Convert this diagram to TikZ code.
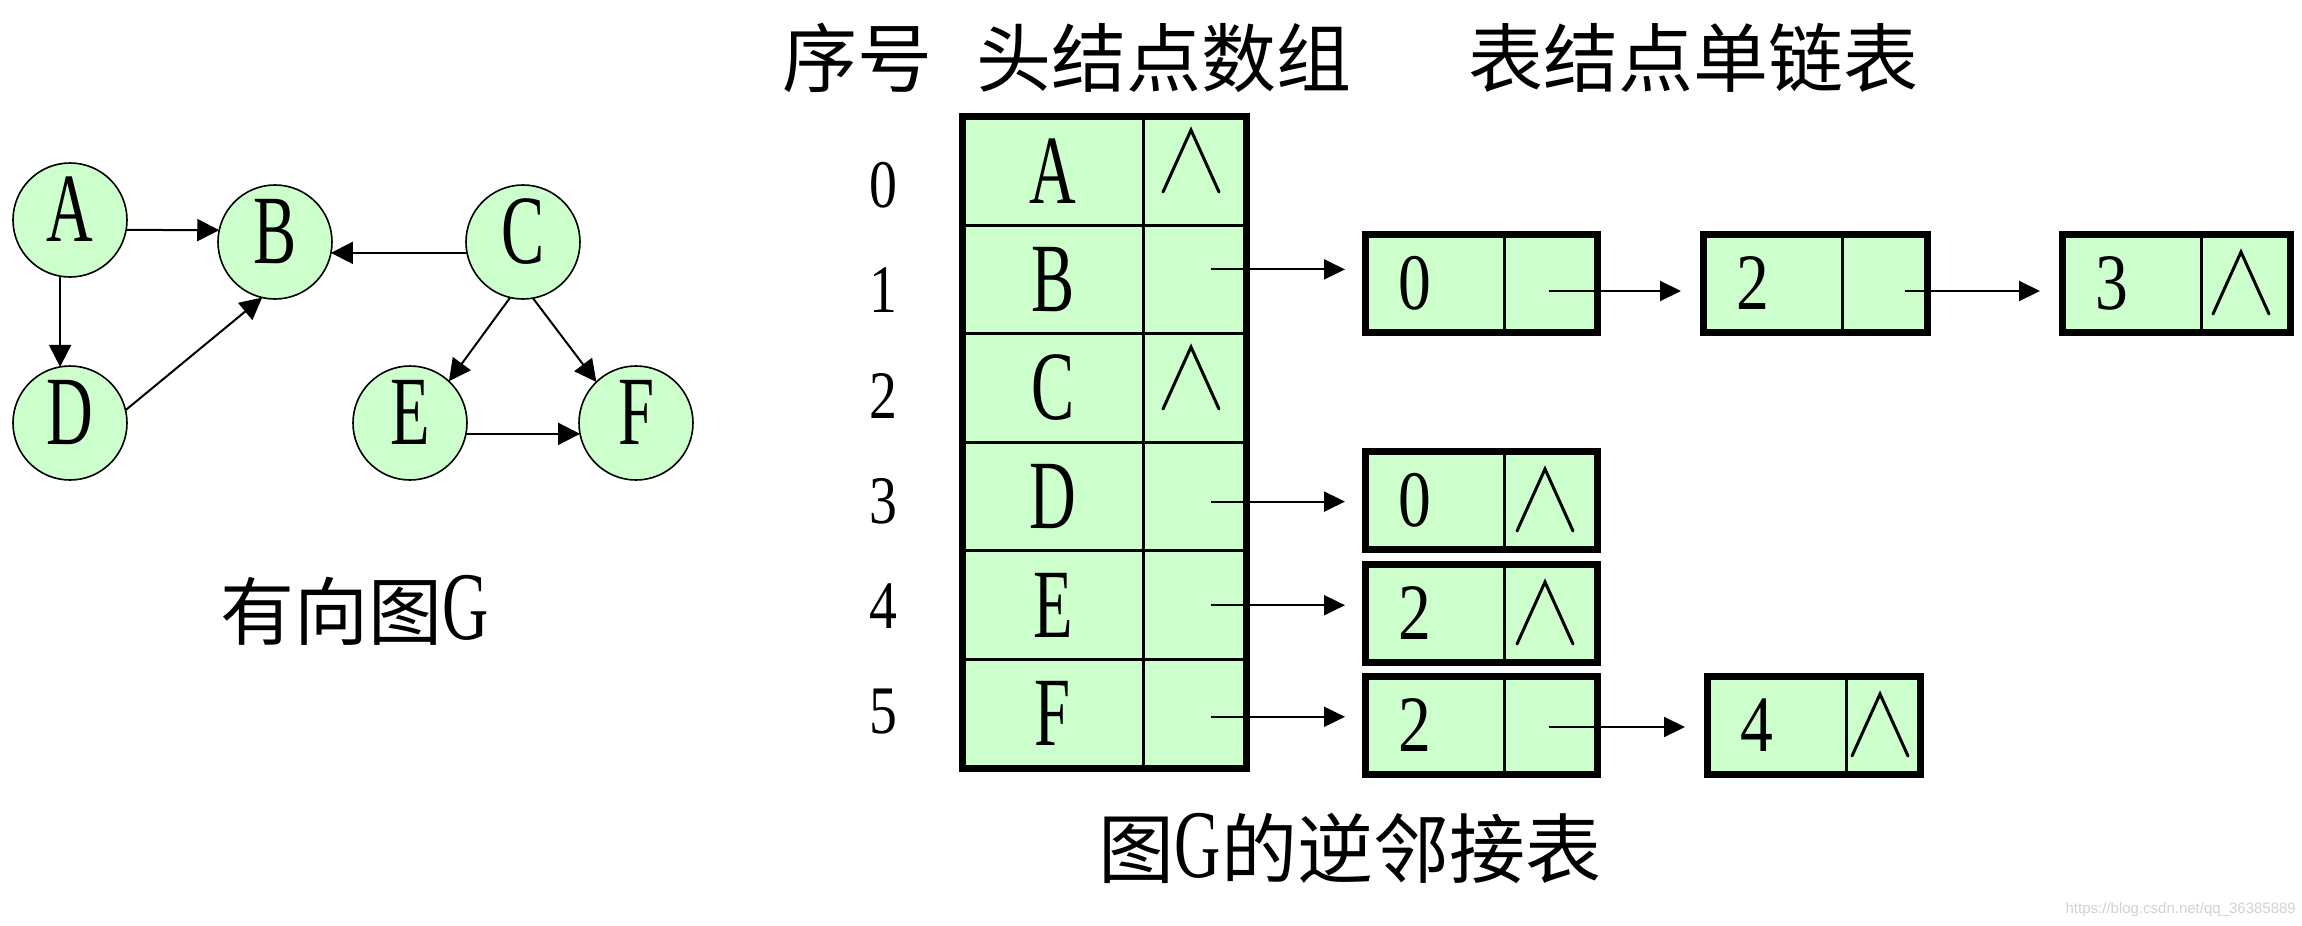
\documentclass[tikz,border=0pt]{standalone}
\usepackage{fontspec}
\setmainfont{Liberation Serif}
\newfontfamily\cjk{Noto Sans CJK SC}
\newfontfamily\nlet[FakeStretch=0.66]{Liberation Serif}
\newfontfamily\ndig[FakeStretch=0.82]{Liberation Serif}
\newfontfamily\wmfont{Liberation Sans}
\usetikzlibrary{arrows.meta}
\definecolor{cellgreen}{RGB}{204,255,204}

\tikzset{
 vert/.style={circle, draw, line width=1.6pt, fill=cellgreen, minimum size=114pt, inner sep=0pt, outer sep=0pt,
   text height=66pt, text depth=24pt, font=\nlet\fontsize{98}{98}\selectfont},
 garrow/.style={line width=2pt, -{Triangle[length=22pt,width=22pt]}},
 ptr/.style={line width=2pt, -{Triangle[length=21pt,width=20pt]}},
 hcell/.style={rectangle, draw, line width=3pt, fill=cellgreen, minimum width=181.5pt, minimum height=108.6pt,
   inner sep=0pt, outer sep=0pt, font=\nlet\fontsize{98}{98}\selectfont},
 pcell/.style={rectangle, draw, line width=3pt, fill=cellgreen, minimum width=103pt, minimum height=108.6pt,
   inner sep=0pt, outer sep=0pt},
 dcell/.style={rectangle, draw, line width=3pt, fill=cellgreen, minimum width=139pt, minimum height=98pt,
   inner sep=0pt, outer sep=0pt},
 ncell/.style={rectangle, draw, line width=3pt, fill=cellgreen, minimum height=98pt,
   inner sep=0pt, outer sep=0pt},
 thickframe/.style={line width=7pt},
 nul/.style={line width=3pt, line cap=round},
 idx/.style={font=\ndig\fontsize{68}{68}\selectfont, inner sep=0pt},
 ddig/.style={font=\ndig\fontsize{80}{80}\selectfont, inner sep=0pt},
 hdtext/.style={font=\cjk\fontsize{75}{75}\selectfont, inner sep=0pt},
 nullsym/.pic={\draw[nul] (-28,31) -- (0,-31) -- (28,31);}
}

% #1 name, #2 left x, #3 centre y, #4 digit, #5 width of pointer field
\newcommand{\listnode}[5]{%
 \node[dcell] (#1a) at (#2+69.5,#3) {};
 \node[ncell, minimum width=#5pt, anchor=west] (#1b) at (#1a.east) {};
 \node[ddig] (#1d) at (#2+50,#3) {#4};
 \draw[thickframe] (#1a.north west) rectangle (#1b.south east);
}

\begin{document}
\begin{tikzpicture}[x=1pt,y=-1pt]
\useasboundingbox (0,0) rectangle (2302,926);

% ---------- directed graph ----------
\node[vert] (A) at (70,220) {A};
\node[vert] (B) at (275,242) {B};
\node[vert] (C) at (523,242) {C};
\node[vert] (D) at (70,423) {D};
\node[vert] (E) at (410,423) {E};
\node[vert] (F) at (636,423) {F};

\draw[garrow] (A.-10) -- (B.168);
\draw[garrow] (C.191) -- (B.-11);
\draw[garrow] (A.260) -- (D.100);
\draw[garrow] (D.13) -- (B.257);
\draw[garrow] (C.257) -- (E.47);
\draw[garrow] (C.280) -- (F.134);
\draw[garrow] (E.-11) -- (F.191);

\node[font=\cjk\fontsize{74}{74}\selectfont, inner sep=0pt] (G1) at (355,610)
  {有向图{\nlet\fontsize{97}{97}\selectfont G}};

% ---------- headers ----------
\node[hdtext] (T1) at (857,58) {序号};
\node[hdtext] (T2) at (1164,58) {头结点数组};
\node[hdtext] (T3) at (1693,58) {表结点单链表};

% ---------- index numbers ----------
\node[idx] (I0) at (883,185) {0};
\node[idx] (I1) at (883,290) {1};
\node[idx] (I2) at (883,396) {2};
\node[idx] (I3) at (883,501) {3};
\node[idx] (I4) at (883,606) {4};
\node[idx] (I5) at (883,712) {5};

% ---------- head node array ----------
\node[hcell] (H0) at (1052.75,170.8) {A}; \node[pcell] (P0) at (1195,170.8) {};
\node[hcell] (H1) at (1052.75,279.4) {B}; \node[pcell] (P1) at (1195,279.4) {};
\node[hcell] (H2) at (1052.75,388.0) {C}; \node[pcell] (P2) at (1195,388.0) {};
\node[hcell] (H3) at (1052.75,496.6) {D}; \node[pcell] (P3) at (1195,496.6) {};
\node[hcell] (H4) at (1052.75,605.2) {E}; \node[pcell] (P4) at (1195,605.2) {};
\node[hcell] (H5) at (1052.75,713.8) {F}; \node[pcell] (P5) at (1195,713.8) {};
\draw[thickframe] (H0.north west) rectangle (P5.south east);
\pic at (1191,161) {nullsym};
\pic at (1191,378) {nullsym};

% ---------- list nodes ----------
\listnode{L1}{1365}{283}{0}{93}
\listnode{L2}{1703}{283}{2}{85}
\listnode{L3}{2062}{283}{3}{89}
\pic at (2062+139+40,283) {nullsym};
\listnode{LD}{1365}{500}{0}{93}
\pic at (1365+139+41,500) {nullsym};
\listnode{LE}{1365}{613}{2}{93}
\pic at (1365+139+41,613) {nullsym};
\listnode{LF}{1365}{725}{2}{93}
\listnode{LG}{1707}{725}{4}{74}
\pic at (1707+137+36,725) {nullsym};

% ---------- pointers ----------
\coordinate (s1) at ([xshift=16pt,yshift=10pt]P1.center);
\coordinate (s3) at ([xshift=16pt,yshift=-5pt]P3.center);
\coordinate (s4) at ([xshift=16pt]P4.center);
\coordinate (s5) at ([xshift=16pt,yshift=-3pt]P5.center);
\draw[ptr, shorten >=20pt] (s1) -- (s1 -| L1a.west);
\draw[ptr, shorten >=20pt] (s3) -- (s3 -| LDa.west);
\draw[ptr, shorten >=20pt] (s4) -- (s4 -| LEa.west);
\draw[ptr, shorten >=20pt] (s5) -- (s5 -| LFa.west);
\coordinate (t1) at ([xshift=-2pt,yshift=-8pt]L1b.center);
\coordinate (t2) at ([xshift=20pt,yshift=-8pt]L2b.center);
\coordinate (t3) at ([xshift=-2pt,yshift=-2pt]LFb.center);
\draw[ptr, shorten >=22pt] (t1) -- (t1 -| L2a.west);
\draw[ptr, shorten >=22pt] (t2) -- (t2 -| L3a.west);
\draw[ptr, shorten >=22pt] (t3) -- (t3 -| LGa.west);

% ---------- caption ----------
\node[inner sep=0pt] (G2) at (1350,848)
  {\cjk\fontsize{76}{76}\selectfont 图{\nlet\fontsize{97}{97}\selectfont G}的逆邻接表};

\node[font=\wmfont\fontsize{15}{15}\selectfont, text=black!18, anchor=east, inner sep=0pt] (W) at (2296,910)
  {https://blog.csdn.net/qq\_36385889};
\end{tikzpicture}
\end{document}
